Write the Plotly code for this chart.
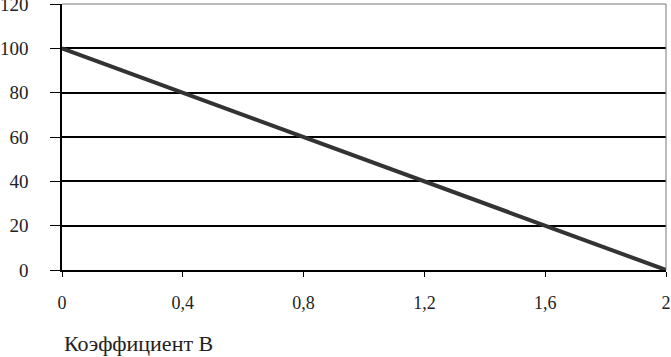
import plotly.graph_objects as go

coef_b = [0, 0.4, 0.8, 1.2, 1.6, 2.0]
values = [100, 80, 60, 40, 20, 0]
x_tickvals = [0, 0.4, 0.8, 1.2, 1.6, 2.0]
x_ticktext = ["0", "0,4", "0,8", "1,2", "1,6", "2"]
y_tickvals = [0, 20, 40, 60, 80, 100, 120]
x_title = "Коэффициент В"

font_family = "Liberation Serif, Times New Roman, serif"

fig = go.Figure()
fig.add_trace(go.Scatter(
    x=coef_b, y=values, mode="lines",
    line=dict(color="#333333", width=4),
    showlegend=False, hoverinfo="skip", cliponaxis=False,
))

fig.update_layout(
    width=671, height=357,
    margin=dict(l=62, r=5, t=4, b=87, autoexpand=False),
    paper_bgcolor="white", plot_bgcolor="white",
    font=dict(family=font_family, size=18, color="#222222"),
    xaxis=dict(
        range=[0, 2], tickvals=x_tickvals, ticktext=x_ticktext,
        showgrid=False, zeroline=False, automargin=False,
        showline=True, linecolor="black", linewidth=1.5,
        ticks="outside", ticklen=5, tickcolor="black", tickwidth=1,
        ticklabelstandoff=11, ticklabeloverflow="allow",
        tickfont=dict(size=18),
    ),
    yaxis=dict(
        range=[0, 120], tickvals=y_tickvals, automargin=False,
        showgrid=True, gridcolor="black", gridwidth=1.5,
        zeroline=False,
        showline=True, linecolor="black", linewidth=1.5,
        ticks="outside", ticklen=10, tickcolor="black", tickwidth=1,
        ticklabelstandoff=18, ticklabeloverflow="allow",
        tickfont=dict(size=19),
    ),
    shapes=[
        dict(type="line", xref="paper", yref="paper", x0=1, x1=1, y0=0, y1=1,
             line=dict(color="#777777", width=1)),
        dict(type="line", xref="paper", yref="paper", x0=0, x1=1, y0=1, y1=1,
             line=dict(color="#777777", width=1)),
    ],
    annotations=[
        dict(text=x_title, xref="paper", yref="paper", x=0, y=-0.278,
             xanchor="left", yanchor="middle", showarrow=False,
             font=dict(family=font_family, size=22, color="#222222")),
    ],
)

fig.write_html(
    "out.html",
    config={"displayModeBar": False},
    post_script="document.body.style.margin='0';document.body.style.overflow='hidden';",
)
